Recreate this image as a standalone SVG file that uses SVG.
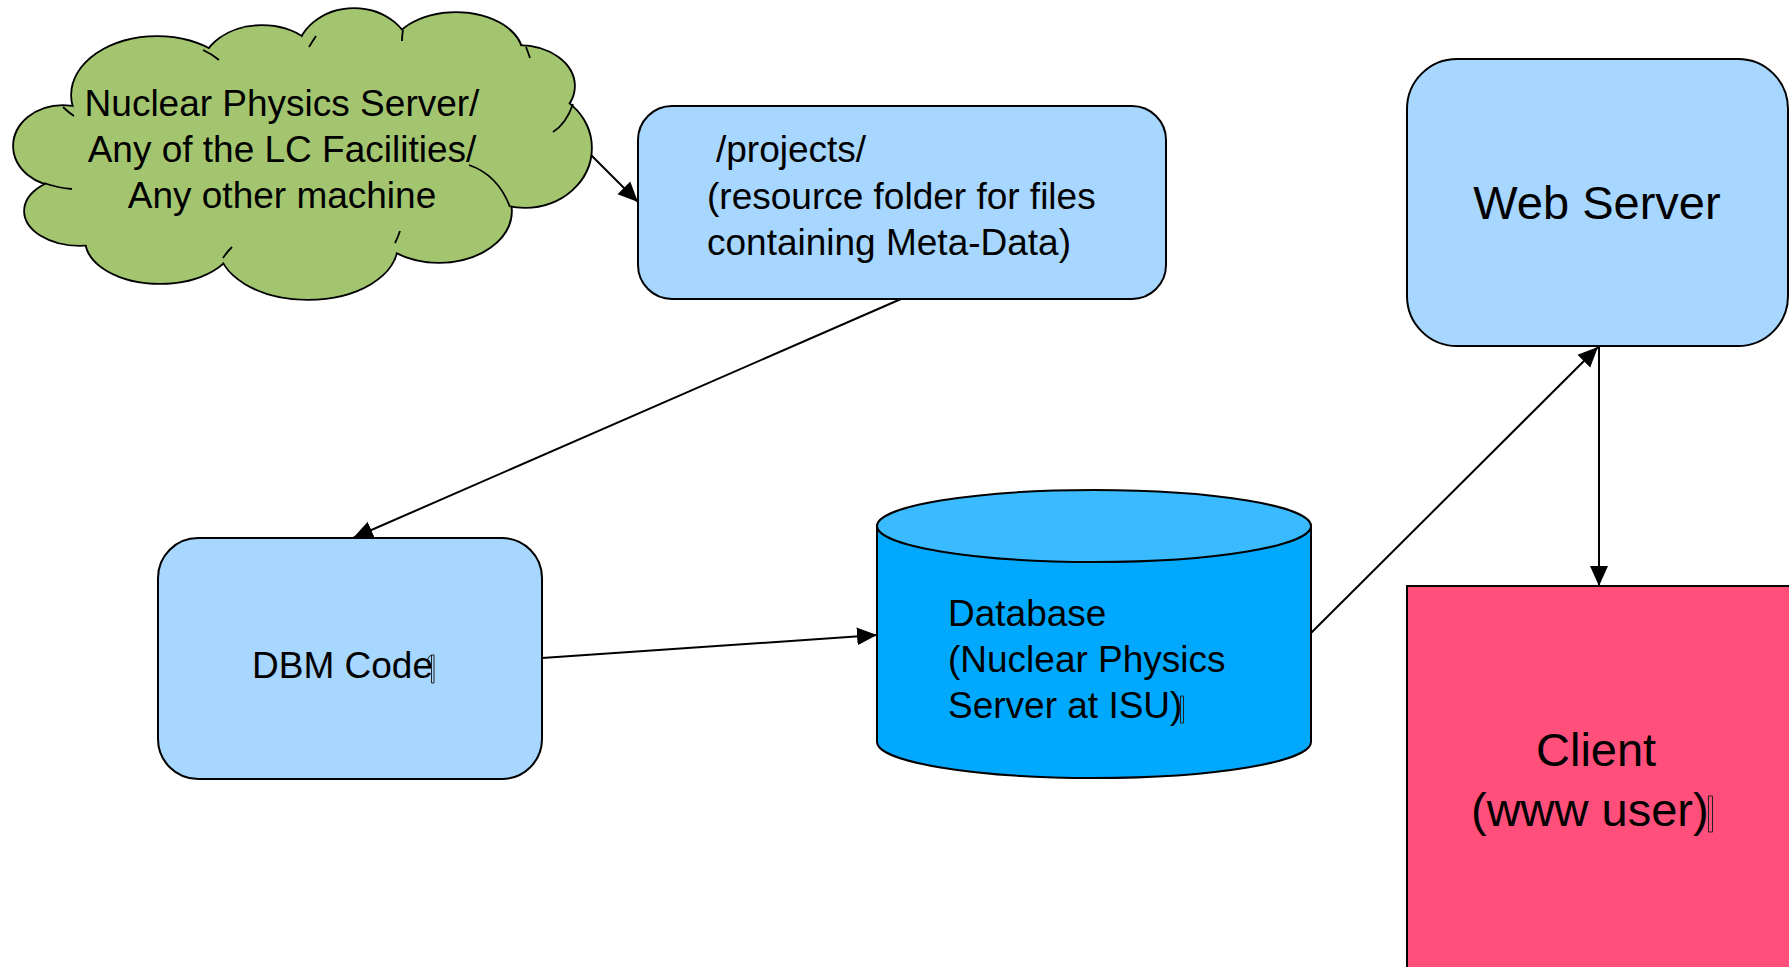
<svg xmlns="http://www.w3.org/2000/svg" width="1789" height="967" viewBox="0 0 1789 967">
  <style>
    .lbl { font-family: "Liberation Sans", Arial, sans-serif; fill: #000; }
    .s37 { font-size: 37px; }
    .s47 { font-size: 47px; }
    .box { fill: #A7D6FE; stroke: #000; stroke-width: 2; }
    .conn { stroke: #000; stroke-width: 2; fill: none; }
    .cloudEdge { fill: #A4C56F; stroke: #000; stroke-width: 3.6; }
    .cloudFill { fill: #A4C56F; stroke: none; }
    .tick { fill: none; stroke: #000; stroke-width: 1.8; }
    .mark { fill: none; stroke: #222; stroke-width: 1; }
  </style>
  <defs>
    <marker id="arrow" viewBox="0 0 20 20" refX="20" refY="10" markerWidth="20" markerHeight="20" markerUnits="userSpaceOnUse" orient="auto">
      <path d="M0,1 L20,10 L0,19 Z" fill="#000"/>
    </marker>
    <g id="cloudLobes">
      <ellipse cx="63" cy="146" rx="49" ry="40"/>
      <ellipse cx="80" cy="211" rx="55" ry="34"/>
      <ellipse cx="160" cy="240" rx="74" ry="43"/>
      <ellipse cx="308" cy="245" rx="89" ry="54"/>
      <ellipse cx="439" cy="211" rx="72" ry="51"/>
      <ellipse cx="525" cy="148" rx="66" ry="59"/>
      <ellipse cx="519" cy="86" rx="55" ry="40"/>
      <ellipse cx="456" cy="55" rx="66" ry="42"/>
      <ellipse cx="354" cy="57" rx="57" ry="48"/>
      <ellipse cx="262" cy="70" rx="60" ry="44"/>
      <ellipse cx="157" cy="95" rx="85" ry="58"/>
      <ellipse cx="300" cy="160" rx="230" ry="100"/>
    </g>
  </defs>

  <rect width="1789" height="967" fill="#fff"/>

  <!-- source machines cloud -->
  <g id="cloud">
    <use href="#cloudLobes" class="cloudEdge"/>
    <use href="#cloudLobes" class="cloudFill"/>
    <path class="tick" d="M469,165 Q498,175 510,207"/>
    <path class="tick" d="M63,107 Q68,112 74,116"/>
    <path class="tick" d="M44,183 Q58,188 72,189"/>
    <path class="tick" d="M203,50 Q212,54 219,60"/>
    <path class="tick" d="M316,36 Q312,42 309,47"/>
    <path class="tick" d="M403,30 Q402,36 402,41"/>
    <path class="tick" d="M526,47 Q528,52 530,58"/>
    <path class="tick" d="M573,104 Q566,124 553,132"/>
    <path class="tick" d="M223,258 Q227,252 232,247"/>
    <path class="tick" d="M395,243 Q398,237 400,231"/>
    <text class="lbl s37" x="282" y="116" text-anchor="middle">Nuclear Physics Server/</text>
    <text class="lbl s37" x="282" y="162" text-anchor="middle">Any of the LC Facilities/</text>
    <text class="lbl s37" x="282" y="208" text-anchor="middle">Any other machine</text>
  </g>

  <!-- resource folder -->
  <g id="projects">
    <rect class="box" x="638" y="106" width="528" height="193" rx="34" ry="34"/>
    <text class="lbl s37" x="716" y="162">/projects/</text>
    <text class="lbl s37" x="707" y="209">(resource folder for files</text>
    <text class="lbl s37" x="707" y="255">containing Meta-Data)</text>
  </g>

  <!-- web server -->
  <g id="web-server">
    <rect class="box" x="1407" y="59" width="381" height="287" rx="50" ry="50"/>
    <text class="lbl s47" x="1597" y="219" text-anchor="middle">Web Server</text>
  </g>

  <!-- DBM code -->
  <g id="dbm-code">
    <rect class="box" x="158" y="538" width="384" height="241" rx="40" ry="40"/>
    <text class="lbl s37" x="252" y="678">DBM Code</text>
    <path class="mark" d="M431.5,655 h2.5 v28 h-2.5 z M431.5,655 q-3,1 -4,5"/>
  </g>

  <!-- database cylinder -->
  <g id="database">
    <path d="M877,526 L877,742 A217,36 0 0 0 1311,742 L1311,526 Z" fill="#00A9FE" stroke="#000" stroke-width="2"/>
    <ellipse cx="1094" cy="526" rx="217" ry="36" fill="#3BBBFF" stroke="#000" stroke-width="2"/>
    <text class="lbl s37" x="948" y="626">Database</text>
    <text class="lbl s37" x="948" y="672">(Nuclear Physics</text>
    <text class="lbl s37" x="948" y="718">Server at ISU)</text>
    <path class="mark" d="M1180.5,696 h3 v27 h-3 z"/>
  </g>

  <!-- client -->
  <g id="client">
    <rect x="1407" y="586" width="420" height="420" fill="#FF4F7A" stroke="#000" stroke-width="2"/>
    <text class="lbl s47" x="1536" y="766">Client</text>
    <text class="lbl s47" x="1471" y="826">(www user)</text>
    <path class="mark" d="M1708.5,796 h4 v36 h-4 z"/>
  </g>

  <!-- connectors -->
  <g id="connectors">
    <line class="conn" x1="591" y1="155" x2="638" y2="202" marker-end="url(#arrow)"/>
    <line class="conn" x1="901" y1="299" x2="353" y2="538" marker-end="url(#arrow)"/>
    <line class="conn" x1="542" y1="658" x2="877" y2="635" marker-end="url(#arrow)"/>
    <line class="conn" x1="1311" y1="633" x2="1598" y2="347" marker-end="url(#arrow)"/>
    <line class="conn" x1="1599" y1="346" x2="1599" y2="586" marker-end="url(#arrow)"/>
  </g>
</svg>
